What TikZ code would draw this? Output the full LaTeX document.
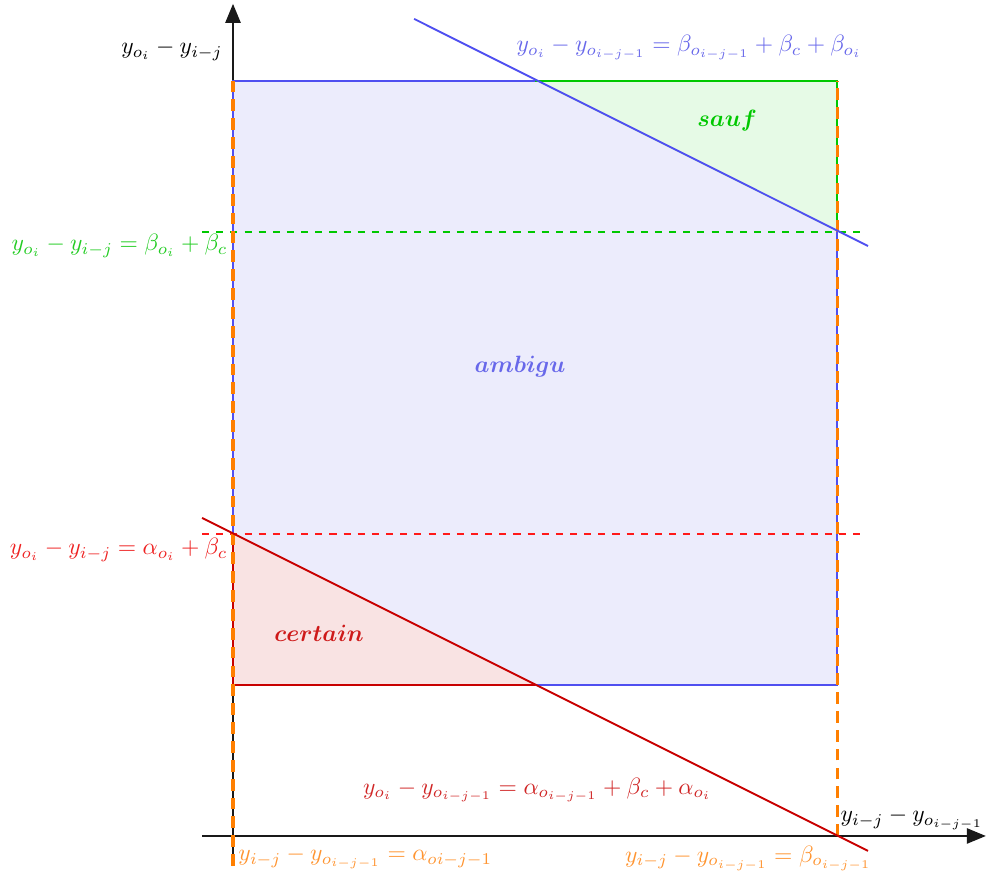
\documentclass[tikz,border=0pt]{standalone}
\usepackage{amsmath,amssymb}
\usepackage{xcolor}
\usepackage{tikz}
\usetikzlibrary{arrows.meta, calc}

\begin{document}
\begin{tikzpicture}[x=2.25cm, y=2.25cm, font=\normalsize]
\definecolor{zBlue}{HTML}{4F4FF0}
\definecolor{zBlueTxt}{HTML}{6868EA}
\definecolor{zGreen}{HTML}{00C800}
\definecolor{zGreenTxt}{HTML}{22CC22}
\definecolor{zRed}{HTML}{C80000}
\definecolor{zRedTxt}{HTML}{EE2222}
\definecolor{zOrange}{HTML}{FF7F00}
\definecolor{zOrangeTxt}{HTML}{FF9430}
\definecolor{fBlue}{HTML}{ECECFC}
\definecolor{fGreen}{HTML}{E6FAE6}
\definecolor{fRed}{HTML}{F9E3E3}
\tikzset{
  axisline/.style={draw=black!90, line width=0.5pt, -{Triangle[length=8pt,width=6.5pt]}},
  edgeline/.style={line width=0.8pt},
  limitline/.style={line width=0.8pt, dashed},
  boundline/.style={draw=zOrange, line width=1.3pt, dash pattern=on 5pt off 3pt},
  zonelabel/.style={inner sep=1pt}
}
\useasboundingbox (-1.543,-0.265) rectangle (4.993,5.536);
% corners of the box
\coordinate (o)  at (0,0);
\coordinate (bl) at (0,1);
\coordinate (br) at (4,1);
\coordinate (tl) at (0,5);
\coordinate (tr) at (4,5);
\coordinate (ml) at (0,2);
\coordinate (mr) at (4,4);
\coordinate (tm) at (2,5);
\coordinate (bm) at (2,1);
\coordinate (xa) at (4,0);
% zones
\fill[fBlue]  (tl) -- (tm) -- (mr) -- (br) -- (bm) -- (ml) -- cycle;
\fill[fGreen] (tm) -- (tr) -- (mr) -- cycle;
\fill[fRed]   (ml) -- (bl) -- (bm) -- cycle;
% axes
\coordinate (xmin) at (-0.205,0);  \coordinate (xmax) at (4.985,0);
\coordinate (ymin) at (0,-0.199);  \coordinate (ymax) at (0,5.51);
\draw[axisline] (xmin) -- (xmax);
\draw[axisline] (ymin) -- (ymax);
% box edges
\draw[edgeline, zBlue]  (ml) -- (tl) -- (tm);
\draw[edgeline, zGreen] (tm) -- (tr) -- (mr);
\draw[edgeline, zBlue]  (mr) -- (br) -- (bm);
\draw[edgeline, zRed]   (bm) -- (bl) -- (ml);
% limits
\coordinate (gA) at (-0.205,4); \coordinate (gB) at (4.19,4);
\coordinate (rA) at (-0.205,2); \coordinate (rB) at (4.19,2);
\draw[limitline, zGreen] (gA) -- (gB);
\draw[limitline, red!90!white] (rA) -- (rB);
\coordinate (oA) at (0,-0.199); \coordinate (oB) at (4,0);
\draw[boundline] (oA) -- (tl);
\draw[boundline] (oB) -- (tr);
% slanted lines
\coordinate (bA) at (1.199,5.411); \coordinate (bB) at (4.205,3.907);
\coordinate (cA) at (-0.205,2.106); \coordinate (cB) at (4.205,-0.099);
\draw[edgeline, zBlue] (bA) -- (bB);
\draw[edgeline, zRed]  (cA) -- (cB);
% labels
\node[anchor=east, inner sep=1pt] (ylab) at (-0.05,5.205) {$y_{o_i}-y_{i-j}$};
\node[anchor=south west, inner sep=1pt] (xlab) at (4.005,0.02) {$y_{i-j}-y_{o_{i-j-1}}$};
\node[zBlueTxt, anchor=east, inner sep=0pt] (blab) at (4.166,5.219) {$y_{o_i}-y_{o_{i-j-1}}=\beta_{o_{i-j-1}}+\beta_c+\beta_{o_i}$};
\node[zGreenTxt, anchor=east, inner sep=0pt] (glab) at (-0.033,3.907) {$y_{o_i}-y_{i-j}=\beta_{o_i}+\beta_c$};
\node[zRedTxt, anchor=east, inner sep=0pt] (rlab) at (-0.033,1.894) {$y_{o_i}-y_{i-j}=\alpha_{o_i}+\beta_c$};
\node[zRed!85!white, anchor=east, inner sep=0pt] (clab) at (3.172,0.305) {$y_{o_i}-y_{o_{i-j-1}}=\alpha_{o_{i-j-1}}+\beta_c+\alpha_{o_i}$};
\node[zOrangeTxt, anchor=west, inner sep=0pt] (olabL) at (0.033,-0.146) {$y_{i-j}-y_{o_{i-j-1}}=\alpha_{oi-j-1}$};
\node[zOrangeTxt, anchor=east, inner sep=0pt] (olabR) at (4.232,-0.146) {$y_{i-j}-y_{o_{i-j-1}}=\beta_{o_{i-j-1}}$};
\node[zonelabel, zGreen] (sauf) at (3.272,4.735) {$\boldsymbol{sauf}$};
\node[zonelabel, zRed!90!white] (certain) at (0.570,1.344) {$\boldsymbol{certain}$};
\node[zonelabel, zBlueTxt] (ambigu) at (1.901,3.106) {$\boldsymbol{ambigu}$};
\end{tikzpicture}
\end{document}
